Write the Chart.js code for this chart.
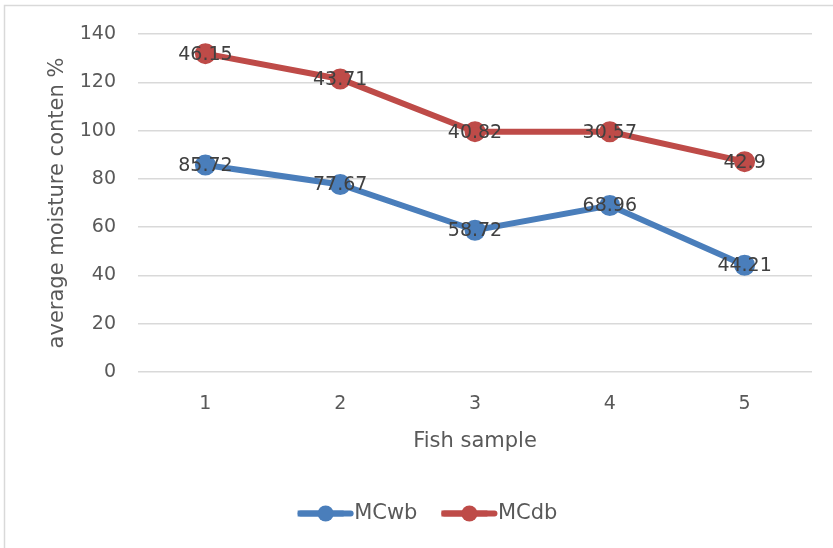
<!DOCTYPE html>
<html>
<head>
<meta charset="utf-8">
<script src="https://cdn.jsdelivr.net/npm/chart.js@4"></script>
<style>
  body { margin: 0; background: #fff; }
  #wrap { width: 833px; height: 548px; position: relative; }
</style>
</head>
<body>
<div id="wrap"><canvas id="myChart"></canvas></div>
<script>
// data (stacked line chart, labels show each series' own value)
const samples = ['1', '2', '3', '4', '5'];
const mcwb = [85.72, 77.67, 58.72, 68.96, 44.21];
const mcdb = [46.15, 43.71, 40.82, 30.57, 42.9];
const yTicks = [0, 20, 40, 60, 80, 100, 120, 140];

const fontName = "'DejaVu Sans', sans-serif";

// draws value on top of every point, like excel data labels
const valueLabels = {
  id: 'valueLabels',
  afterDatasetsDraw(chart) {
    const ctx = chart.ctx;
    ctx.save();
    ctx.font = '19px ' + fontName;
    ctx.fillStyle = '#404040';
    ctx.textAlign = 'center';
    ctx.textBaseline = 'middle';
    chart.data.datasets.forEach((ds, i) => {
      const meta = chart.getDatasetMeta(i);
      meta.data.forEach((pt, j) => {
        ctx.fillText(String(ds.data[j]), pt.x, pt.y + 1);
      });
    });
    ctx.restore();
  }
};

// outer frame + line with dot for each legend entry
const frame = {
  id: 'frame',
  beforeDraw(chart) {
    const ctx = chart.ctx;
    ctx.save();
    ctx.strokeStyle = '#d9d9d9';
    ctx.lineWidth = 1.5;
    ctx.strokeRect(4.5, 5.5, 900, 600);
    ctx.restore();
  },
  afterDraw(chart) {
    const lg = chart.legend;
    if (!lg || !lg.legendHitBoxes) return;
    const ctx = chart.ctx;
    ctx.save();
    lg.legendHitBoxes.forEach((box, i) => {
      const c = chart.data.datasets[i].borderColor;
      const cy = box.top + box.height / 2;
      ctx.strokeStyle = c;
      ctx.lineWidth = 6;
      ctx.lineCap = 'round';
      ctx.beginPath();
      ctx.moveTo(box.left + 3, cy);
      ctx.lineTo(box.left + 53, cy);
      ctx.stroke();
      ctx.fillStyle = c;
      ctx.beginPath();
      ctx.arc(box.left + 28, cy, 8, 0, Math.PI * 2);
      ctx.fill();
    });
    ctx.restore();
  }
};

const myChart = document.getElementById('myChart');

let lineChart = new Chart(myChart, {
  type: 'line',
  data: {
    labels: samples,
    datasets: [
      {
        label: 'MCwb',
        data: mcwb,
        borderColor: '#4a7ebb',
        backgroundColor: '#4a7ebb',
        borderWidth: 6,
        pointRadius: 7.5,
        pointHoverRadius: 7.5,
        fill: false,
        tension: 0
      },
      {
        label: 'MCdb',
        data: mcdb,
        borderColor: '#be4b48',
        backgroundColor: '#be4b48',
        borderWidth: 6,
        pointRadius: 7.5,
        pointHoverRadius: 7.5,
        fill: false,
        tension: 0
      }
    ]
  },
  options: {
    responsive: true,
    maintainAspectRatio: false,
    animation: false,
    layout: { padding: { left: 43, right: 21, top: 34, bottom: 14 } },
    plugins: {
      tooltip: { enabled: false },
      legend: {
        position: 'bottom',
        labels: {
          font: { family: fontName, size: 21 },
          color: '#595959',
          boxWidth: 46,
          boxHeight: 0,
          padding: 24
        }
      }
    },
    scales: {
      x: {
        offset: true,
        grid: { display: false, drawTicks: false },
        border: { display: false },
        ticks: { font: { family: fontName, size: 19 }, color: '#595959', padding: 21 },
        title: {
          display: true,
          text: 'Fish sample',
          font: { family: fontName, size: 21 },
          color: '#595959',
          padding: { top: 0, bottom: 25 }
        },
        afterFit(scale) { scale.height = 107; }
      },
      y: {
        stacked: true,
        min: 0,
        max: 140,
        afterBuildTicks(scale) { scale.ticks = yTicks.map(v => ({ value: v })); },
        grid: { color: '#d9d9d9', lineWidth: 1.5, drawTicks: false },
        border: { display: false },
        ticks: { font: { family: fontName, size: 19 }, color: '#595959', padding: 22 },
        title: {
          display: true,
          text: 'average moisture conten %',
          font: { family: fontName, size: 21 },
          color: '#595959',
          padding: { top: 2, bottom: 0 }
        },
        afterFit(scale) { scale.width = 95; }
      }
    }
  },
  plugins: [valueLabels, frame]
});
</script>
</body>
</html>
